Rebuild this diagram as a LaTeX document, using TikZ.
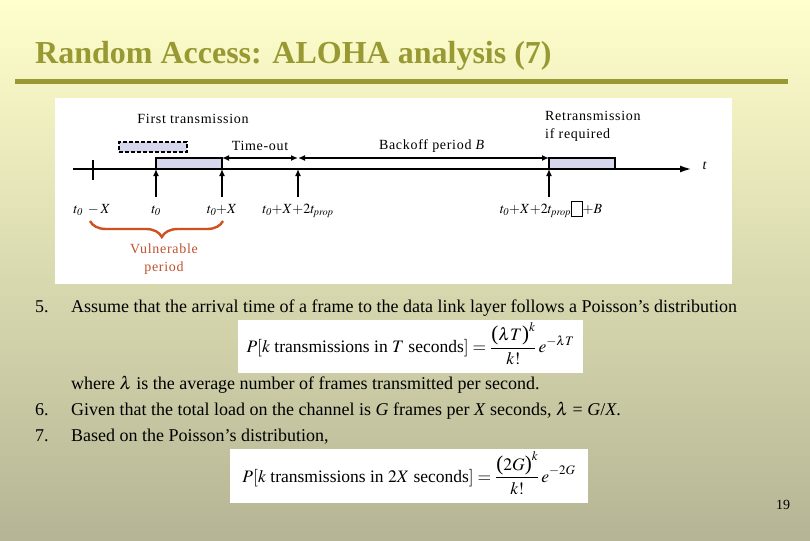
\documentclass[tikz,border=0pt]{standalone}
\usepackage{amsmath}
\usepackage{mathptmx}
\usepackage{fontspec}
\setmainfont{Liberation Serif}
\newfontfamily\diagfont[LetterSpace=5]{Liberation Serif}
\usetikzlibrary{arrows.meta,positioning,decorations.pathreplacing}
\definecolor{slide-top}{RGB}{255,255,204}
\definecolor{slide-bottom}{RGB}{181,181,149}
\definecolor{slide-olive}{RGB}{153,153,51}
\definecolor{frame-lav}{RGB}{214,214,236}
\definecolor{vuln-red}{RGB}{208,80,32}
\definecolor{vuln-text}{RGB}{192,82,46}
\newcommand{\tofu}{\fbox{\vphantom{X}\hspace{0.35em}}}
\newcommand{\bigpar}[1]{\mbox{\fontsize{21}{21}\selectfont#1}}
\tikzset{
  aloha-axis/.style={line width=2.2pt, -{Latex[length=12pt,width=7pt]}},
  aloha-mark/.style={line width=2.2pt, -{Latex[length=7pt,width=6pt]}},
  aloha-span/.style={line width=2.2pt, {Latex[length=7pt,width=6pt]}-{Latex[length=7pt,width=6pt]}},
  aloha-frame/.style={draw=black, fill=frame-lav, line width=2.2pt, minimum width=66pt,
    minimum height=11pt, inner sep=0pt, outer sep=0pt, anchor=south west},
  aloha-text/.style={font=\fontsize{14}{18}\diagfont, inner sep=1pt},
  aloha-time/.style={font=\fontsize{14}{16}\selectfont, inner xsep=0pt, inner ysep=6pt,
    text height=10pt, text depth=4pt, anchor=north},
  slide-item/.style={anchor=base west, font=\fontsize{18}{20}\selectfont, inner sep=0pt},
  formula-box/.style={fill=white, inner sep=0pt, font=\fontsize{17.5}{19}\selectfont,
    text height=29pt, text depth=17pt}
}

\begin{document}
\begin{tikzpicture}[x=1pt, y=-1pt, >=Latex]
  \useasboundingbox (0,0) rectangle (810,540);
  \shade[top color=slide-top, bottom color=slide-bottom] (0,0) rectangle (810,540);

  % Title and rule
  \node[anchor=base west, inner sep=0pt, text=slide-olive, font=\fontsize{32}{36}\selectfont\bfseries]
    (title) at (35,64) {Random Access: ALOHA analysis (7)};
  \coordinate (rule-l) at (15,81.5);
  \coordinate (rule-r) at (788,81.5);
  \draw[slide-olive, line width=5pt] (rule-l) -- (rule-r);

  % Timing diagram
  \fill[white] (55,98) rectangle (732,284);
  \coordinate (ax-start) at (73,169);
  \coordinate (ax-end) at (692,169);
  \coordinate (tick-top) at (93,160);
  \coordinate (tick-bot) at (93,180);
  \coordinate (p0) at (156,169);
  \coordinate (p1) at (222,169);
  \coordinate (p2) at (298,169);
  \coordinate (p3) at (549,169);
  \coordinate (to-mid) at (298,158);

  \node[aloha-frame, dashed, dash pattern=on 4pt off 2pt, line width=1.8pt, minimum width=68pt,
    minimum height=10pt] (frame0) at (119,152) {};
  \node[aloha-frame] (frame1) at (p0) {};
  \node[aloha-frame] (frame2) at (p3) {};

  \draw[aloha-axis] (ax-start) -- (ax-end);
  \draw[line width=2.2pt] (tick-top) -- (tick-bot);
  \draw[aloha-span] (frame1.north east) -- (to-mid);
  \draw[aloha-span] (to-mid) -- (frame2.north west);

  \node[aloha-text] (lbl-first) at (193,119) {First transmission};
  \node[aloha-text] (lbl-timeout) at (260,146) {Time-out};
  \node[aloha-text] (lbl-backoff) at (432,146) {Backoff period \textit{B}};
  \node[aloha-text, align=left, anchor=north west] (lbl-retx) at (544,110) {Retransmission\\if required};
  \node[aloha-text] (lbl-t) at (705,166) {\textit{t}};

  % Time labels and markers
  \node[aloha-time] (lt-m) at (92,197) {$t_{\mathit{0}}\;-X$};
  \node[aloha-time] (lt-0) at (156,197) {$t_{\mathit{0}}$};
  \node[aloha-time] (lt-1) at (222,197) {$t_{\mathit{0}}{+}X$};
  \node[aloha-time] (lt-2) at (298,197) {$t_{\mathit{0}}{+}X{+}2t_{\mathit{prop}}$};
  \node[aloha-time] (lt-3) at (551,197) {$t_{\mathit{0}}{+}X{+}2t_{\mathit{prop}}$\tofu$+B$};
  \draw[aloha-mark] (lt-0.north) -- (p0);
  \draw[aloha-mark] (lt-1.north) -- (p1);
  \draw[aloha-mark] (lt-2.north) -- (p2);
  \draw[aloha-mark] (lt-3.north-|p3) -- (p3);

  % Vulnerable period
  \coordinate (br-l) at (90,221);
  \coordinate (br-r) at (223,221);
  \draw[vuln-red, line width=2.4pt, decorate, decoration={brace, mirror, amplitude=16pt, aspect=0.54}] (br-l) -- (br-r);
  \node[aloha-text, text=vuln-text, align=center] (lbl-vuln) at (164,259) {Vulnerable\\period};

  % Items
  \node[slide-item] (num5) at (35,312) {5.};
  \node[slide-item] (item5) at (71,312)
    {Assume that the arrival time of a frame to the data link layer follows a Poisson’s distribution};
  \node[formula-box, minimum width=345pt, minimum height=53pt] (eq1) at (410.5,346.5)
    {$\displaystyle P[k\mbox{ transmissions in }T\mbox{ seconds}]=\frac{\bigpar{(}\lambda T\bigpar{)}^{k}}{k!}\,e^{-\lambda T}$};
  \node[slide-item] (item5b) at (71,389) {where $\lambda$ is the average number of frames transmitted per second.};
  \node[slide-item] (num6) at (35,415) {6.};
  \node[slide-item] (item6) at (71,415)
    {Given that the total load on the channel is \textit{G} frames per \textit{X} seconds, $\lambda$ = \textit{G}/\textit{X}.};
  \node[slide-item] (num7) at (35,441) {7.};
  \node[slide-item] (item7) at (71,441) {Based on the Poisson’s distribution,};
  \node[formula-box, minimum width=358pt, minimum height=54pt] (eq2) at (409,476)
    {$\displaystyle P[k\mbox{ transmissions in }2X\mbox{ seconds}]=\frac{\bigpar{(}2G\bigpar{)}^{k}}{k!}\,e^{-2G}$};

  \node[anchor=base, inner sep=0pt, font=\fontsize{14}{16}\selectfont] (page) at (783,509) {19};
\end{tikzpicture}
\end{document}
